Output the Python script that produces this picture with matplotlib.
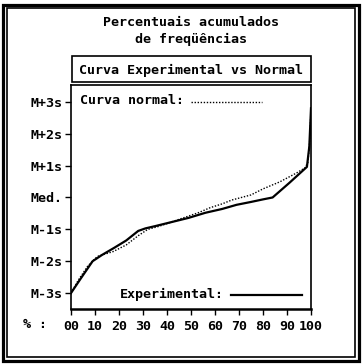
import matplotlib
matplotlib.use("Agg")
import matplotlib.pyplot as plt
from matplotlib.patches import Rectangle

W, H = 362, 364
DPI = 100

# cumulative percentage (x) vs position in sigma units (y)
exp_pct = [0, 4, 9, 13, 18, 23, 28, 31, 35, 42, 49, 56, 63, 69, 75, 80, 84, 91, 98.3, 99.3, 100]
exp_sig = [-3, -2.55, -2.0, -1.8, -1.58, -1.35, -1.05, -0.97, -0.9, -0.77, -0.64, -0.48,
           -0.36, -0.23, -0.14, -0.06, 0.0, 0.46, 0.96, 1.6, 2.8]

norm_pct = [0, 3, 7, 11, 14, 17.5, 23, 28, 32, 36, 40, 46, 53, 58, 63, 67, 75, 80, 87, 94,
            97.5, 98.7, 99.4, 100]
norm_sig = [-3, -2.6, -2.15, -1.85, -1.78, -1.7, -1.49, -1.2, -1.0, -0.92, -0.82, -0.66,
            -0.48, -0.32, -0.2, -0.08, 0.08, 0.27, 0.49, 0.77, 0.93, 1.1, 1.7, 2.75]

y_ticks = [-3, -2, -1, 0, 1, 2, 3]
y_labels = ["M-3s", "M-2s", "M-1s", "Med.", "M+1s", "M+2s", "M+3s"]
x_ticks = [0, 10, 20, 30, 40, 50, 60, 70, 80, 90, 100]
x_labels = ["00", "10", "20", "30", "40", "50", "60", "70", "80", "90", "100"]

FONT = "DejaVu Sans Mono"
FS = 9.6


def fx(px):
    return px / W


def fy(py):
    return 1 - py / H


fig = plt.figure(figsize=(W / DPI, H / DPI), dpi=DPI)
fig.patch.set_facecolor("white")

# double outer border
fig.add_artist(Rectangle((fx(3), fy(361)), fx(359) - fx(3), fy(4.5) - fy(361),
                         transform=fig.transFigure, fill=False, lw=2.3, ec="black"))
fig.add_artist(Rectangle((fx(6.5), fy(356.5)), fx(354.5) - fx(6.5), fy(8) - fy(356.5),
                         transform=fig.transFigure, fill=False, lw=1.2, ec="black"))

# title
fig.text(fx(191), fy(23), "Percentuais acumulados", ha="center", va="center",
         family=FONT, fontsize=FS, weight="bold")
fig.text(fx(191), fy(39), "de freqüências", ha="center", va="center",
         family=FONT, fontsize=FS, weight="bold")

# subtitle box
fig.add_artist(Rectangle((fx(71.5), fy(81.5)), fx(311) - fx(71.5), fy(55.5) - fy(81.5),
                         transform=fig.transFigure, fill=False, lw=1.2, ec="black"))
fig.text(fx(191), fy(70), "Curva Experimental vs Normal", ha="center", va="center",
         family=FONT, fontsize=FS, weight="bold")

ax = fig.add_axes([fx(71), fy(309), fx(311) - fx(71), fy(85) - fy(309)])
ax.plot(norm_pct, norm_sig, color="black", lw=1.0, linestyle=(0, (1, 1.2)))
ax.plot(exp_pct, exp_sig, color="black", lw=1.6)
ax.set_xlim(0, 100)
ax.set_ylim(-3.5, 3.53)

ax.set_yticks(y_ticks)
ax.set_yticklabels(y_labels, family=FONT, fontsize=FS, weight="bold")
ax.set_xticks(x_ticks)
ax.set_xticklabels(x_labels, family=FONT, fontsize=FS, weight="bold")
ax.tick_params(axis="both", direction="out", length=4, width=1.0, pad=2, color="black")
ax.tick_params(axis="x", pad=4)

for side in ["left", "top", "right"]:
    ax.spines[side].set_linewidth(1.2)
ax.spines["bottom"].set_linewidth(1.8)

# legend entries drawn in axes coordinates
ax.text((80 - 71) / 240, 1 - (101 - 85) / 224, "Curva normal:", ha="left", va="center",
        transform=ax.transAxes, family=FONT, fontsize=FS, weight="bold")
ax.plot([(191 - 71) / 240, (262 - 71) / 240], [1 - (102 - 85) / 224] * 2,
        transform=ax.transAxes, color="black", lw=1.0, linestyle=(0, (1, 1.2)))
ax.text((120 - 71) / 240, 1 - (294 - 85) / 224, "Experimental:", ha="left", va="center",
        transform=ax.transAxes, family=FONT, fontsize=FS, weight="bold")
ax.plot([(231 - 71) / 240, (302 - 71) / 240], [1 - (295 - 85) / 224] * 2,
        transform=ax.transAxes, color="black", lw=1.6)

fig.text(fx(23), fy(325), "% :", ha="left", va="center",
         family=FONT, fontsize=FS, weight="bold")

fig.savefig("out.png", dpi=DPI)
